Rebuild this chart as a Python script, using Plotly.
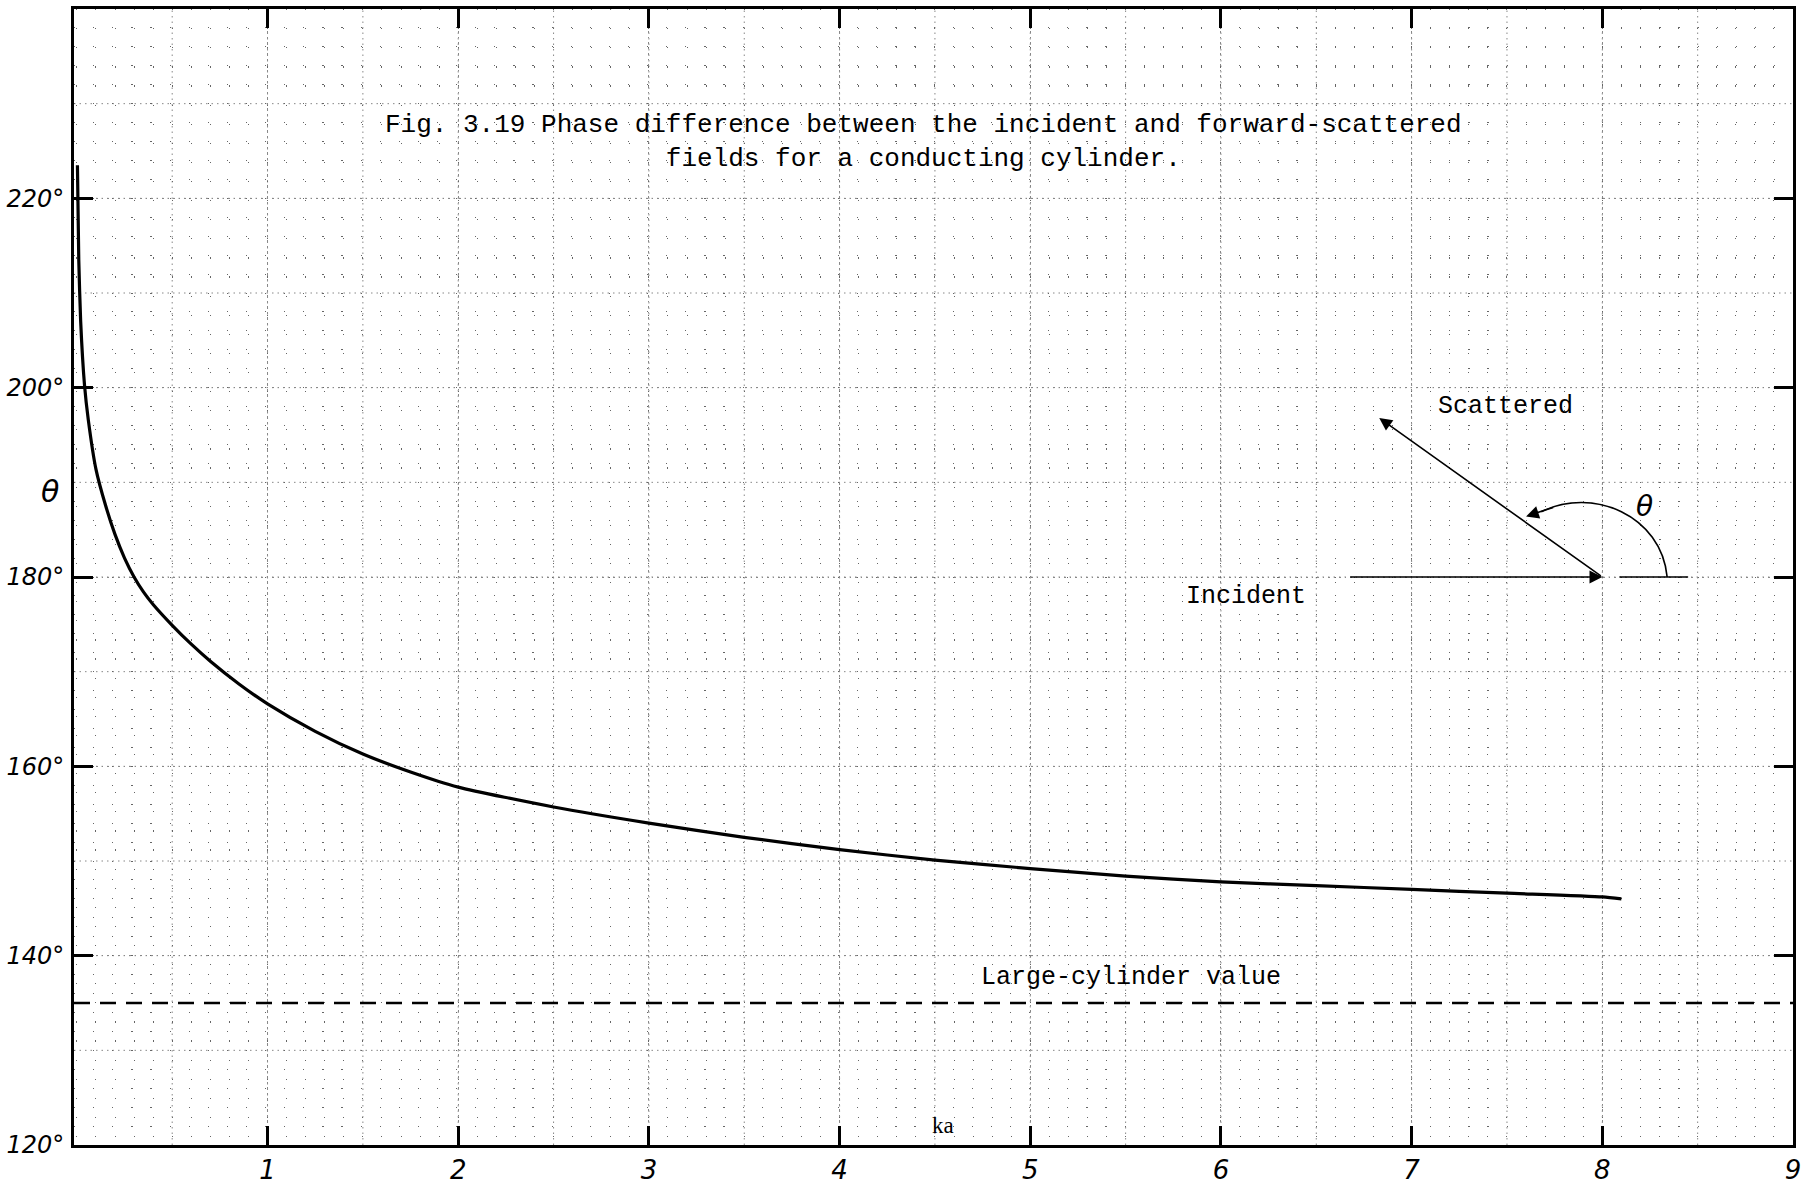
import plotly.graph_objects as go

# ---- data ----
ka = [0.003, 0.01, 0.02, 0.04, 0.06, 0.1, 0.15, 0.2, 0.25, 0.3, 0.35, 0.4,
      0.5, 0.6, 0.7, 0.85, 1.0, 1.25, 1.5, 1.75, 2.0, 2.5, 3.0, 3.5, 4.0, 4.5,
      5.0, 5.5, 6.0, 6.5, 7.0, 7.5, 8.0, 8.1]
theta = [223.5, 213.5, 207.0, 200.3, 196.6, 191.4, 187.6, 184.5, 182.0, 180.0,
         178.4, 177.1, 174.9, 172.9, 171.1, 168.7, 166.6, 163.7, 161.3, 159.4,
         157.8, 155.7, 154.0, 152.5, 151.2, 150.1, 149.2, 148.4, 147.8, 147.4,
         147.0, 146.6, 146.2, 146.0]
large_cylinder_value = 135

x_tickvals = [1, 2, 3, 4, 5, 6, 7, 8, 9]
x_ticktext = ["1", "2", "3", "4", "5", "6", "7", "8", "9"]
y_tickvals = [120, 140, 160, 180, 200, 220]
y_ticktext = ["120°", "140°", "160°", "180°", "200°", "220°"]

x_range = [-0.015, 9.0]
y_range = [120, 240]

title_text = ("Fig. 3.19 Phase difference between the incident and forward-scattered"
              "<br>fields for a conducting cylinder.")

mono = "Liberation Mono"
hand = "DejaVu Sans"

fig = go.Figure()

# medium grid (half units / 10 degrees)
for i in range(1, 18):
    xv = i * 0.5
    fig.add_shape(type="line", xref="x", yref="paper", x0=xv, x1=xv, y0=0, y1=1,
                  line=dict(color="#888", width=1, dash="1.5px,4px"), layer="below")
for i in range(1, 12):
    yv = 120 + i * 10
    fig.add_shape(type="line", xref="paper", yref="y", x0=0, x1=1, y0=yv, y1=yv,
                  line=dict(color="#888", width=1, dash="1.5px,4px"), layer="below")

# main curve
fig.add_trace(go.Scatter(x=ka, y=theta, mode="lines",
                         line=dict(color="black", width=3.2, shape="spline", smoothing=0.6),
                         hoverinfo="skip", showlegend=False))

# large-cylinder asymptote
fig.add_hline(y=large_cylinder_value, line=dict(color="black", width=2.5, dash="16px,10px"))

annotations = []
annotations.append(dict(x=4.44, y=226.0, xref="x", yref="y", text=title_text,
                        showarrow=False, align="center",
                        font=dict(family=mono, size=26, color="black")))
annotations.append(dict(x=5.53, y=137.7, xref="x", yref="y", text="Large-cylinder value",
                        showarrow=False, font=dict(family=mono, size=25, color="black")))
annotations.append(dict(x=7.49, y=198.0, xref="x", yref="y", text="Scattered",
                        showarrow=False, font=dict(family=mono, size=25, color="black")))
annotations.append(dict(x=6.13, y=177.9, xref="x", yref="y", text="Incident",
                        showarrow=False, font=dict(family=mono, size=25, color="black")))
annotations.append(dict(x=4.54, y=122.1, xref="x", yref="y", text="ka",
                        showarrow=False, font=dict(family="Liberation Serif", size=23, color="black")))
annotations.append(dict(x=8.22, y=187.4, xref="x", yref="y", text="θ",
                        showarrow=False, font=dict(family=hand, size=28, color="black", style="italic")))
annotations.append(dict(x=-0.0203, y=189.0, xref="paper", yref="y", text="θ",
                        showarrow=False, font=dict(family=hand, size=30, color="black", style="italic")))
# incident arrow
annotations.append(dict(x=8.0, y=180, ax=6.67, ay=180, xref="x", yref="y", axref="x", ayref="y",
                        text="", showarrow=True, arrowhead=2, arrowsize=1.6, arrowwidth=1.6,
                        arrowcolor="black"))
# scattered arrow
annotations.append(dict(x=6.83, y=196.8, ax=8.0, ay=180, xref="x", yref="y", axref="x", ayref="y",
                        text="", showarrow=True, arrowhead=2, arrowsize=1.6, arrowwidth=1.6,
                        arrowcolor="black"))
# arc arrowhead
annotations.append(dict(x=7.60, y=186.4, ax=7.75, ay=187.4, xref="x", yref="y", axref="x", ayref="y",
                        text="", showarrow=True, arrowhead=2, arrowsize=1.6, arrowwidth=1.6,
                        arrowcolor="black"))

# baseline continuation and theta arc
fig.add_shape(type="line", xref="x", yref="y", x0=8.09, x1=8.45, y0=180, y1=180,
              line=dict(color="black", width=1.6))
fig.add_shape(type="path", xref="x", yref="y",
              path="M 8.34,180 C 8.31,186.5 7.95,189.6 7.68,186.9",
              line=dict(color="black", width=1.6))

fig.update_layout(
    width=1812, height=1191,
    margin=dict(l=73, r=19, t=6, b=33),
    paper_bgcolor="white", plot_bgcolor="white",
    showlegend=False,
    annotations=annotations,
    xaxis=dict(range=x_range, tickmode="array", tickvals=x_tickvals, ticktext=x_ticktext,
               ticks="inside", ticklen=19, tickwidth=3, tickcolor="black",
               showline=True, linewidth=3, linecolor="black", mirror="ticks",
               showgrid=True, gridcolor="#888", gridwidth=1, griddash="1.5px,4px",
               zeroline=False,
               tickfont=dict(family=hand, size=26, color="black", style="italic"),
               minor=dict(dtick=0.1, tick0=0, showgrid=True, gridcolor="#666",
                          gridwidth=1, griddash="1.2px,17.9px", ticks="")),
    yaxis=dict(range=y_range, tickmode="array", tickvals=y_tickvals, ticktext=y_ticktext,
               ticks="inside", ticklen=19, tickwidth=3, tickcolor="black",
               showline=True, linewidth=3, linecolor="black", mirror="ticks",
               showgrid=True, gridcolor="#888", gridwidth=1, griddash="1.5px,4px",
               zeroline=False, ticklabelstandoff=2,
               tickfont=dict(family=hand, size=24, color="black", style="italic"),
               minor=dict(dtick=2, tick0=120, showgrid=True, gridcolor="#666",
                          gridwidth=1, griddash="1.2px,17.9px", ticks="")),
)

fig.write_html("out.html")
